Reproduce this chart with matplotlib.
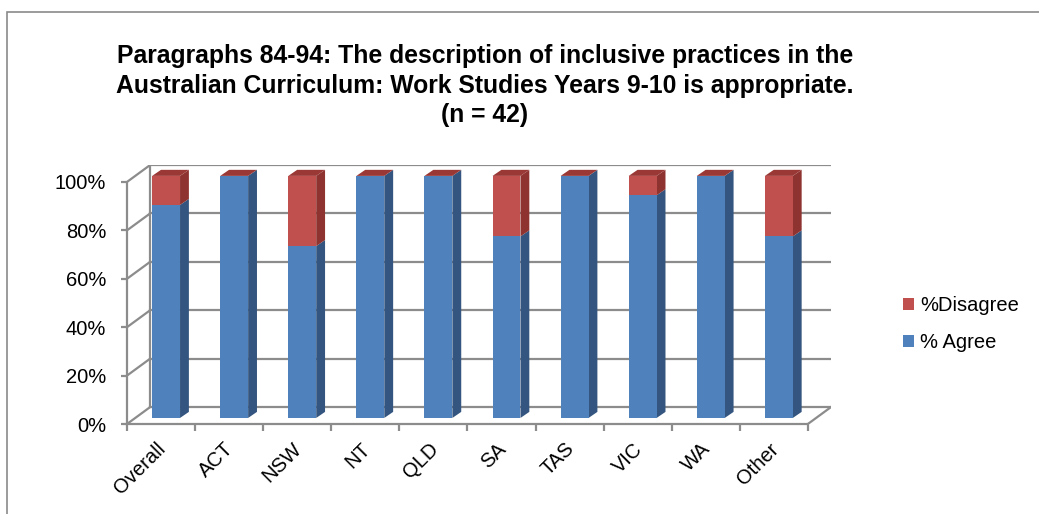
import matplotlib
matplotlib.use("Agg")
import matplotlib.pyplot as plt
import matplotlib.transforms as mtransforms
from matplotlib.patches import Polygon, Patch, Rectangle
from matplotlib.ticker import FuncFormatter

plt.rcParams['font.family'] = ['Liberation Sans', 'DejaVu Sans']

categories = ["Overall", "ACT", "NSW", "NT", "QLD", "SA", "TAS", "VIC", "WA", "Other"]
agree = [88, 100, 71, 100, 100, 75, 100, 92, 100, 75]
disagree = [12, 0, 29, 0, 0, 25, 0, 8, 0, 25]
title_lines = [
    "Paragraphs 84-94: The description of inclusive practices in the",
    "Australian Curriculum: Work Studies Years 9-10 is appropriate.",
    "(n = 42)",
]

blue, blue_side = "#4F81BD", "#34557F"
red, red_side, red_top = "#C0504D", "#8E3330", "#9A3835"
grid_c = "#8c8c8c"

# oblique "3D" look: depth offsets in data units
wall_dx, wall_dy = 0.34, 7.0     # back wall offset
bar_dx, bar_dy = 0.13, 2.5       # bar depth
bar_shift, bar_w = 0.074, 0.41
n = len(categories)

fig = plt.figure(figsize=(10.39, 5.14), dpi=100)
ax = fig.add_axes([127 / 1039, 90 / 514, 704 / 1039, 259 / 514])
ax.set_xlim(-0.5, n - 0.5 + wall_dx)
ax.set_ylim(0, 100 + wall_dy)

# walls and floor
ticks = [0, 20, 40, 60, 80, 100]
for t in ticks:
    ax.plot([-0.5 + wall_dx, n - 0.5 + wall_dx], [t + wall_dy] * 2, color=grid_c, lw=1.6, zorder=1)
    ax.plot([-0.5, -0.5 + wall_dx], [t, t + wall_dy], color=grid_c, lw=1.6, zorder=1)
ax.plot([-0.5 + wall_dx] * 2, [wall_dy, 100 + wall_dy], color=grid_c, lw=1.6, zorder=1)
ax.plot([n - 0.5, n - 0.5 + wall_dx], [0, wall_dy], color=grid_c, lw=1.6, zorder=1)

x = [i + bar_shift for i in range(n)]
base = [bar_dy] * n
top_agree = [bar_dy + a for a in agree]
ax.bar(x, agree, bottom=base, width=bar_w, color=blue, zorder=3)
ax.bar(x, disagree, bottom=top_agree, width=bar_w, color=red, zorder=3)

for i in range(n):
    xr = x[i] + bar_w / 2
    xl = x[i] - bar_w / 2
    segs = [(bar_dy, top_agree[i], blue_side), (top_agree[i], top_agree[i] + disagree[i], red_side)]
    for b, t, c in segs:
        if t > b:
            ax.add_patch(Polygon([(xr, b), (xr + bar_dx, b + bar_dy), (xr + bar_dx, t + bar_dy), (xr, t)],
                                 closed=True, facecolor=c, edgecolor="none", zorder=2.5))
    T = top_agree[i] + disagree[i]
    ax.add_patch(Polygon([(xl, T), (xr, T), (xr + bar_dx, T + bar_dy), (xl + bar_dx, T + bar_dy)],
                         closed=True, facecolor=red_top, edgecolor="none", zorder=2.5))

for s in ["top", "right"]:
    ax.spines[s].set_visible(False)
ax.spines["left"].set_bounds(0, 100)
ax.spines["bottom"].set_bounds(-0.5, n - 0.5)
for s in ["left", "bottom"]:
    ax.spines[s].set_color(grid_c)
    ax.spines[s].set_linewidth(1.6)

ax.set_yticks(ticks)
ax.yaxis.set_major_formatter(FuncFormatter(lambda v, p: f"{int(v)}%"))
ax.tick_params(axis="y", length=4, width=1.6, color=grid_c, pad=11, labelsize=14.5)

ax.set_xticks([i - 0.5 for i in range(n + 1)], minor=True)
ax.set_xticks(range(n))
ax.set_xticklabels(categories, rotation=45, ha="right", va="top", rotation_mode="anchor")
ax.tick_params(axis="x", which="major", length=0, pad=11, labelsize=14.5)
ax.tick_params(axis="x", which="minor", length=5, width=1.6, color=grid_c)
offset = mtransforms.ScaledTranslation(-5 / 100, 0, fig.dpi_scale_trans)
for lab in ax.get_xticklabels():
    lab.set_transform(lab.get_transform() + offset)

handles = [Patch(facecolor=red, label="%Disagree"), Patch(facecolor=blue, label="% Agree")]
fig.legend(handles=handles, loc="center left", bbox_to_anchor=(885 / 1039, 1 - 324 / 514),
           frameon=False, fontsize=14.5, handlelength=0.55, handleheight=0.55,
           handletextpad=0.3, labelspacing=0.9)

for k, line in enumerate(title_lines):
    fig.text(485 / 1039, 1 - (63 + 29.5 * k) / 514, line, ha="center", va="baseline",
             fontsize=17.8, fontweight="bold")

fig.add_artist(Rectangle((7 / 1039, -0.1), 1.1, 1 - 12 / 514 + 0.1, transform=fig.transFigure,
                         fill=False, edgecolor="#8a8a8a", lw=1.2))

fig.savefig("out.png", dpi=100)
